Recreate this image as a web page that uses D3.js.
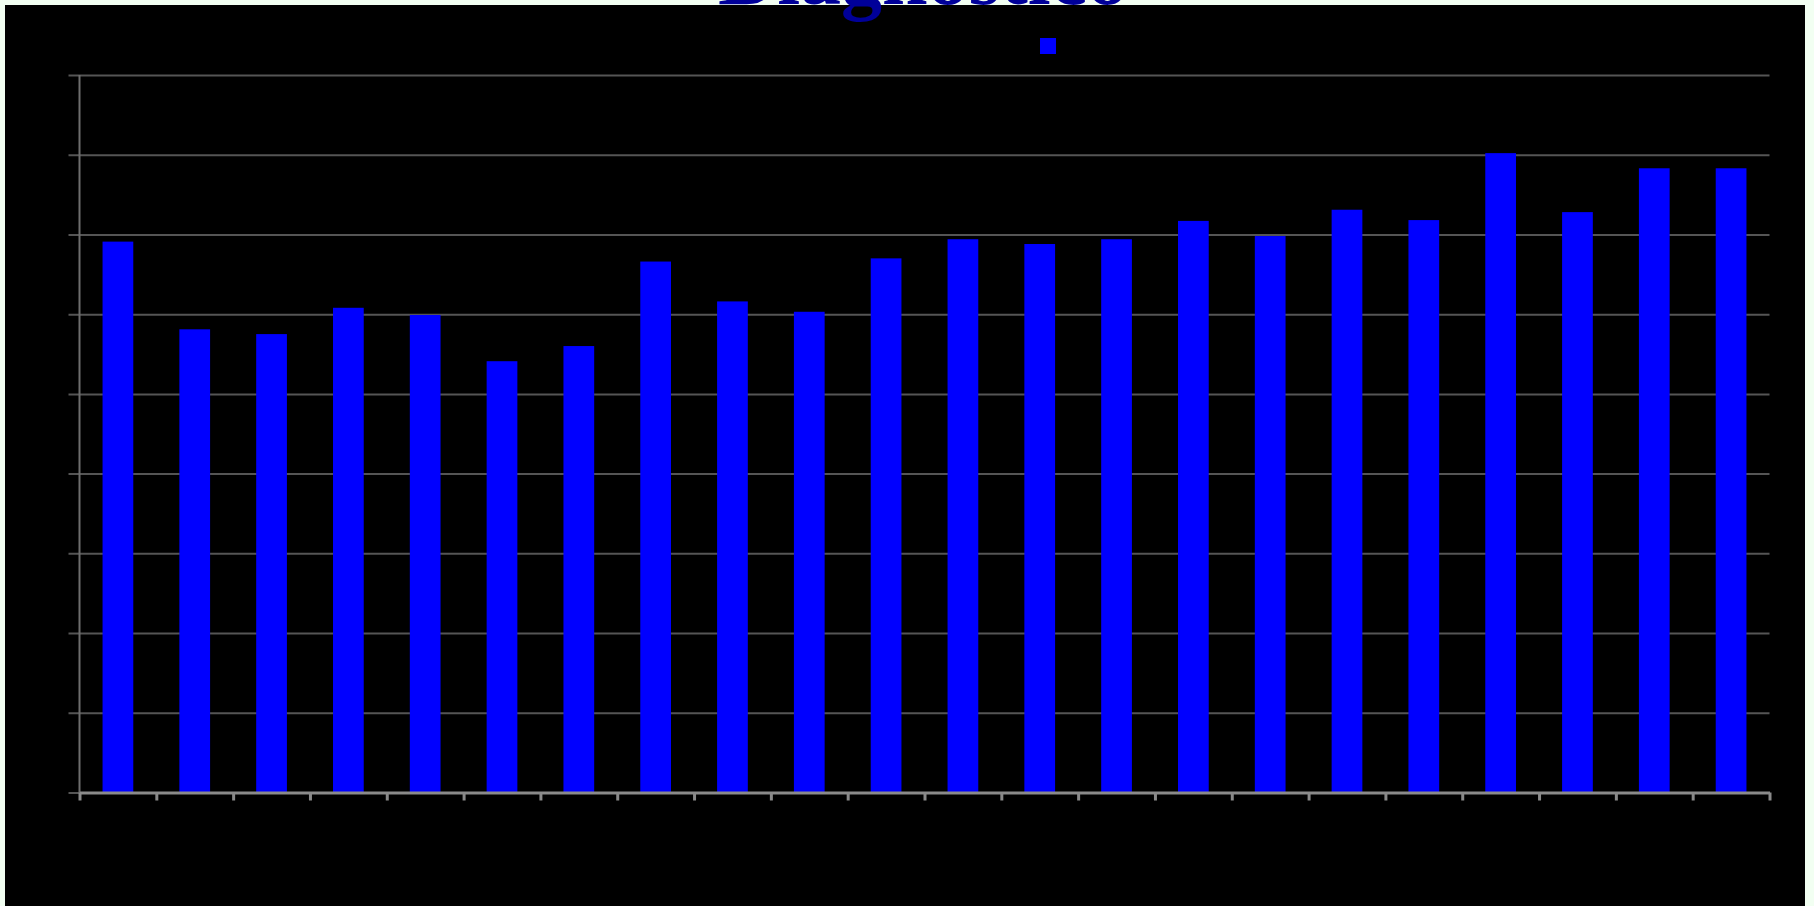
<!DOCTYPE html>
<html>
<head>
<meta charset="utf-8">
<script src="https://cdn.jsdelivr.net/npm/d3@7"></script>
<style>
  html, body { margin: 0; padding: 0; background: #f2fff2; }
  svg { display: block; }
</style>
</head>
<body>
<svg id="chart" width="1814" height="906"></svg>
<script>
// ---- data ----
const categories = ["1","2","3","4","5","6","7","8","9","10","11","12","13","14","15","16","17","18","19","20","21","22"];
const values = [69.1, 58.1, 57.5, 60.8, 59.9, 54.1, 56.0, 66.6, 61.6, 60.3, 67.0, 69.4, 68.8, 69.4, 71.7, 69.8, 73.1, 71.8, 80.2, 72.8, 78.3, 78.3];
const yTicks = [0, 10, 20, 30, 40, 50, 60, 70, 80, 90];
const titleText = "Diagnóstico";

// ---- layout ----
const W = 1814, H = 906;
const plot = { left: 79.5, right: 1769.5, top: 75, bottom: 792.5 };

const svg = d3.select("#chart");

svg.append("rect")
  .attr("x", 5).attr("y", 5)
  .attr("width", 1800).attr("height", H - 5)
  .attr("fill", "#000000");

const x = d3.scaleBand()
  .domain(categories)
  .range([plot.left, plot.right])
  .paddingInner(0.6)
  .paddingOuter(0.3);

const xEdge = d3.scaleLinear()
  .domain([0, categories.length])
  .range([plot.left, plot.right]);

const y = d3.scaleLinear()
  .domain([0, 90])
  .range([plot.bottom, plot.top]);

// gridlines (with left ticks)
svg.append("g")
  .attr("transform", `translate(${plot.left},0)`)
  .call(d3.axisLeft(y).tickValues(yTicks).tickSizeInner(-(plot.right - plot.left)).tickSizeOuter(0).tickFormat(""))
  .call(g => g.select(".domain").remove())
  .call(g => g.selectAll(".tick line")
      .attr("x1", -11)
      .attr("stroke", "#555555")
      .attr("stroke-width", 2));

// y axis line
svg.append("line")
  .attr("x1", plot.left).attr("x2", plot.left)
  .attr("y1", y(90)).attr("y2", plot.bottom)
  .attr("stroke", "#6e6e6e")
  .attr("stroke-width", 2);

// bars
svg.append("g")
  .selectAll("rect")
  .data(values)
  .join("rect")
  .attr("x", (d, i) => x(categories[i]))
  .attr("y", d => y(d))
  .attr("width", x.bandwidth())
  .attr("height", d => y(0) - y(d))
  .attr("fill", "#0000ff");

// x axis
svg.append("g")
  .attr("transform", `translate(0,${plot.bottom})`)
  .call(d3.axisBottom(xEdge).tickValues(d3.range(categories.length + 1)).tickSizeInner(8).tickSizeOuter(0).tickFormat(""))
  .call(g => g.select(".domain").attr("stroke", "#8a8a8a").attr("stroke-width", 3))
  .call(g => g.selectAll(".tick line").attr("stroke", "#8a8a8a").attr("stroke-width", 3));

// legend
svg.append("rect")
  .attr("x", 1040).attr("y", 38)
  .attr("width", 16).attr("height", 16)
  .attr("fill", "#0000ff");

// title (mostly cut off above the page, as in the source)
svg.append("text")
  .attr("x", 923)
  .attr("y", 4)
  .attr("text-anchor", "middle")
  .attr("font-family", "Liberation Serif, serif")
  .attr("font-weight", "bold")
  .attr("font-size", 82)
  .attr("fill", "#000099")
  .text(titleText);
</script>
</body>
</html>
